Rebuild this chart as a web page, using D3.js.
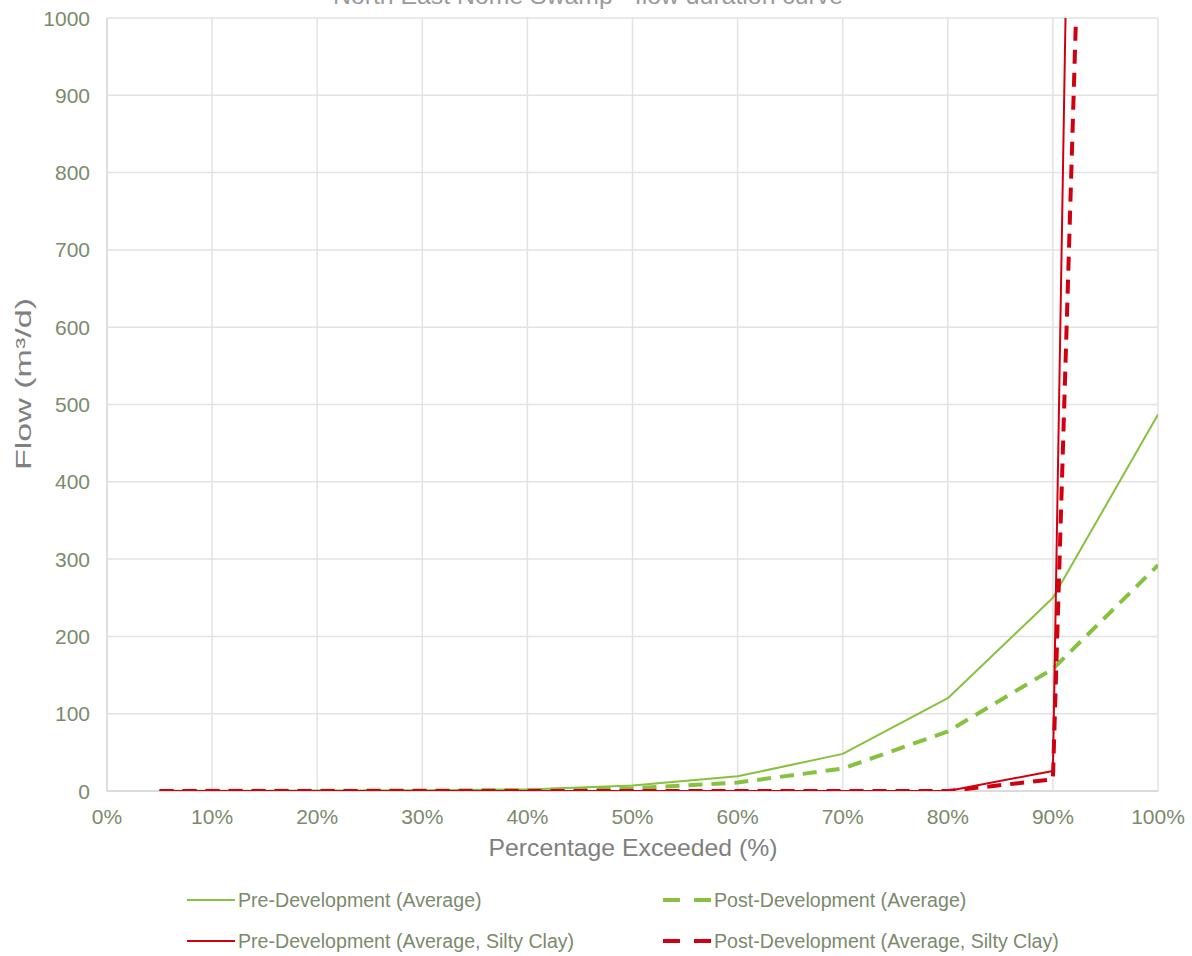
<!DOCTYPE html>
<html>
<head>
<meta charset="utf-8">
<script src="https://cdn.jsdelivr.net/npm/d3@7"></script>
<style>
  body { margin: 0; background: #fff; }
  svg { font-family: "Liberation Sans", Arial, sans-serif; }
</style>
</head>
<body>
<div id="chart"></div>
<script>
// percentage exceeded (%)
const pctExceeded = [5, 10, 20, 30, 40, 50, 60, 70, 80, 90, 100];
// flow (m3/d)
const preAvg      = [0.2, 0.4, 0.6, 0.9, 2, 7, 19, 48, 120, 250, 487];
const postAvg     = [0.1, 0.2, 0.4, 0.6, 1, 3.5, 11, 29, 77, 158, 292];
const preClay     = [0, 0, 0, 0, 0, 0, 0, 0, 0, 26, 8150];
const postClay    = [0, 0, 0, 0, 0, 0, 0, 0, 0, 15, 4500];

const yTicks = [0, 100, 200, 300, 400, 500, 600, 700, 800, 900, 1000];
const xTicks = [0, 10, 20, 30, 40, 50, 60, 70, 80, 90, 100];

const seriesInfo = [
  {name: "Pre-Development (Average)", values: preAvg, color: "#86c140", width: 2, dash: null},
  {name: "Post-Development (Average)", values: postAvg, color: "#86c140", width: 4, dash: "14,9"},
  {name: "Pre-Development (Average, Silty Clay)", values: preClay, color: "#d00010", width: 2, dash: null},
  {name: "Post-Development (Average, Silty Clay)", values: postClay, color: "#d00010", width: 4, dash: "14,9"}
];

const W = 1192, H = 956;
const plot = {left: 107, right: 1158, top: 18, bottom: 791};
const tickColor = "#7b8a6c";
const titleColor = "#808080";

const svg = d3.select("#chart").append("svg")
    .attr("width", W)
    .attr("height", H);

const x = d3.scaleLinear().domain([0, 100]).range([plot.left, plot.right]);
const y = d3.scaleLinear().domain([0, 1000]).range([plot.bottom, plot.top]);

// chart title, cut off by the top edge like the source image
svg.append("text")
    .attr("x", 588)
    .attr("y", 4)
    .attr("text-anchor", "middle")
    .attr("textLength", 510)
    .attr("lengthAdjust", "spacingAndGlyphs")
    .style("font-size", "24px")
    .style("fill", "#9a9a9a")
    .text("North East Nome Swamp - flow duration curve");

// gridlines
svg.append("g")
    .selectAll("line")
    .data(yTicks)
    .enter()
    .append("line")
    .attr("x1", plot.left)
    .attr("x2", plot.right)
    .attr("y1", d => y(d))
    .attr("y2", d => y(d))
    .attr("stroke", d => d === 0 ? "#cfcfcf" : "#e2e2e2")
    .attr("stroke-width", 1.5);

svg.append("g")
    .selectAll("line")
    .data(xTicks)
    .enter()
    .append("line")
    .attr("x1", d => x(d))
    .attr("x2", d => x(d))
    .attr("y1", plot.top)
    .attr("y2", plot.bottom)
    .attr("stroke", d => d === 0 ? "#d4d4d4" : "#e2e2e2")
    .attr("stroke-width", 1.5);

// y tick labels
svg.append("g")
    .selectAll("text")
    .data(yTicks)
    .enter()
    .append("text")
    .attr("x", 90)
    .attr("y", d => y(d) + 7.5)
    .attr("text-anchor", "end")
    .style("font-size", "21px")
    .style("fill", tickColor)
    .text(d => d);

// x tick labels
svg.append("g")
    .selectAll("text")
    .data(xTicks)
    .enter()
    .append("text")
    .attr("x", d => x(d))
    .attr("y", 824)
    .attr("text-anchor", "middle")
    .style("font-size", "21px")
    .style("fill", tickColor)
    .text(d => d + "%");

// axis titles
svg.append("text")
    .attr("x", 633)
    .attr("y", 856)
    .attr("text-anchor", "middle")
    .attr("textLength", 289)
    .attr("lengthAdjust", "spacingAndGlyphs")
    .style("font-size", "24px")
    .style("fill", titleColor)
    .text("Percentage Exceeded (%)");

svg.append("text")
    .attr("transform", "translate(31, 384) rotate(-90)")
    .attr("text-anchor", "middle")
    .attr("textLength", 172)
    .attr("lengthAdjust", "spacingAndGlyphs")
    .style("font-size", "22px")
    .style("fill", titleColor)
    .text("Flow (m³/d)");

// clip to plot area
svg.append("clipPath")
    .attr("id", "plotClip")
    .append("rect")
    .attr("x", plot.left)
    .attr("y", plot.top)
    .attr("width", plot.right - plot.left)
    .attr("height", plot.bottom - plot.top);

const line = d3.line()
    .x(d => x(d[0]))
    .y(d => y(d[1]));

const lines = svg.append("g").attr("clip-path", "url(#plotClip)");

lines.selectAll("path")
    .data(seriesInfo)
    .enter()
    .append("path")
    .attr("d", s => line(pctExceeded.map((p, i) => [p, s.values[i]])))
    .attr("fill", "none")
    .attr("stroke", s => s.color)
    .attr("stroke-width", s => s.width)
    .attr("stroke-dasharray", s => s.dash)
    .attr("stroke-linejoin", "round");

// legend
const legendPos = [[187, 900], [663, 900], [187, 941], [663, 941]];

const legendItem = svg.append("g")
    .selectAll("g")
    .data(seriesInfo)
    .enter()
    .append("g")
    .attr("transform", (d, i) => `translate(${legendPos[i][0]}, ${legendPos[i][1]})`);

legendItem.append("line")
    .attr("x1", 0)
    .attr("x2", 48)
    .attr("y1", 0)
    .attr("y2", 0)
    .attr("stroke", d => d.color)
    .attr("stroke-width", d => d.width)
    .attr("stroke-dasharray", d => d.dash ? "17,14" : null);

legendItem.append("text")
    .attr("x", 51)
    .attr("y", 7)
    .style("font-size", "19.6px")
    .style("fill", tickColor)
    .text(d => d.name);
</script>
</body>
</html>
